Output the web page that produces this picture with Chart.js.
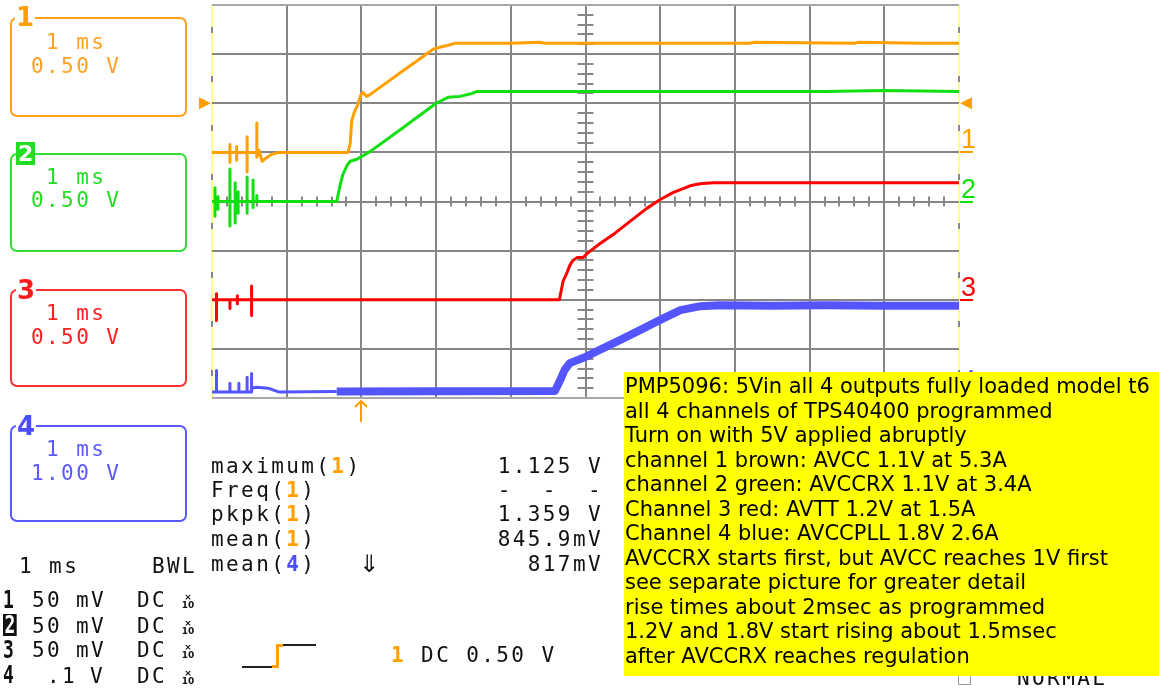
<!DOCTYPE html>
<html>
<head>
<meta charset="utf-8">
<title>PMP5096 turn-on, 4 channels</title>
<script src="https://cdn.jsdelivr.net/npm/chart.js@4.4.1/dist/chart.umd.min.js"></script>
<style>
  html, body { margin: 0; padding: 0; background: #fff; }
  #page { position: relative; width: 1159px; height: 689px; overflow: hidden; }
  #scope { position: absolute; left: 0; top: 0; }
  .mono { position: absolute; font-family: "DejaVu Sans Mono", monospace; font-size: 21px; letter-spacing: 2.4px; line-height: 21px; white-space: pre; color: #111; }
  .chnum { position: absolute; font: bold 25px "DejaVu Sans Mono", monospace; line-height: 25px; color: #111; transform: scaleX(0.72); transform-origin: 0 0; }
  .chbox { position: absolute; left: 10px; width: 177px; box-sizing: border-box; border: 2px solid; border-radius: 7px; }
  .chlbl { position: absolute; left: 6px; font: bold 26px "DejaVu Sans", sans-serif; line-height: 26px; background: #fff; padding: 0 1px; }
  .x10 { position: absolute; font: bold 9px "DejaVu Sans", sans-serif; line-height: 8px; text-align: center; width: 14px; color: #111; }
  .rule { position: absolute; }
  #note { position: absolute; left: 624px; top: 372px; width: 535px; height: 304px; background: #ffff00; box-sizing: border-box; padding: 2px 0 0 1px; font-family: "DejaVu Sans", sans-serif; font-size: 21px; line-height: 24.5px; color: #000; white-space: pre; z-index: 5; }
</style>
</head>
<body>
<div id="page">
  <canvas id="scope" width="1159" height="689"></canvas>

  <!-- channel boxes -->
  <div class="chbox" style="top:17px;height:100px;border-color:#ffa020"></div>
  <div class="chlbl" style="left:15px;top:4px;color:#ffa000">1</div>
  <div class="mono" style="left:31px;top:32px;color:#ffa020"> 1 ms</div>
  <div class="mono" style="left:31px;top:56px;color:#ffa020">0.50 V</div>

  <div class="chbox" style="top:153px;height:99px;border-color:#33dd33"></div>
  <div class="chlbl" style="left:16px;top:142px;color:#fff;background:#22dd22;font-size:22px;line-height:23px;padding:0 2px">2</div>
  <div class="mono" style="left:31px;top:167px;color:#22dd22"> 1 ms</div>
  <div class="mono" style="left:31px;top:190px;color:#22dd22">0.50 V</div>

  <div class="chbox" style="top:289px;height:98px;border-color:#ff3030"></div>
  <div class="chlbl" style="left:16px;top:277px;color:#ff1a1a">3</div>
  <div class="mono" style="left:31px;top:303px;color:#ff2020"> 1 ms</div>
  <div class="mono" style="left:31px;top:327px;color:#ff2020">0.50 V</div>

  <div class="chbox" style="top:425px;height:97px;border-color:#5a5aff"></div>
  <div class="chlbl" style="left:16px;top:413px;color:#4c4cff">4</div>
  <div class="mono" style="left:31px;top:439px;color:#5a5aff"> 1 ms</div>
  <div class="mono" style="left:31px;top:463px;color:#5a5aff">1.00 V</div>

  <!-- measurements -->
  <div class="mono" style="left:211px;top:456px">maximum(<b style="color:#ffa000">1</b>)</div>
  <div class="mono" style="left:211px;top:480px">Freq(<b style="color:#ffa000">1</b>)</div>
  <div class="mono" style="left:211px;top:504px">pkpk(<b style="color:#ffa000">1</b>)</div>
  <div class="mono" style="left:211px;top:529px">mean(<b style="color:#ffa000">1</b>)</div>
  <div class="mono" style="left:211px;top:554px">mean(<b style="color:#4c4cff">4</b>)</div>
  <div class="mono" style="left:359px;top:552px;font-family:'DejaVu Sans',sans-serif;font-size:24px;line-height:24px;letter-spacing:0">&#8659;</div>
  <div class="mono" style="right:556px;top:456px;text-align:right">1.125 V</div>
  <div class="mono" style="right:556px;top:480px;text-align:right">-  -  -</div>
  <div class="mono" style="right:556px;top:504px;text-align:right">1.359 V</div>
  <div class="mono" style="right:556px;top:529px;text-align:right">845.9mV</div>
  <div class="mono" style="right:556px;top:554px;text-align:right">817mV</div>

  <!-- timebase and channel settings -->
  <div class="mono" style="left:19px;top:556px">1 ms</div>
  <div class="mono" style="left:152px;top:556px">BWL</div>

  <div class="chnum" style="left:3px;top:587px">1</div>
  <div class="mono" style="left:32px;top:590px">50</div>
  <div class="mono" style="left:76px;top:590px">mV</div>
  <div class="mono" style="left:137px;top:590px">DC</div>
  <div class="x10" style="left:181px;top:593px">&#215;<br>10</div>

  <div class="chnum" style="left:3px;top:612px;color:#fff;background:#111;padding:0 2px;line-height:22px;margin-top:2px">2</div>
  <div class="mono" style="left:32px;top:616px">50</div>
  <div class="mono" style="left:76px;top:616px">mV</div>
  <div class="mono" style="left:137px;top:616px">DC</div>
  <div class="x10" style="left:181px;top:619px">&#215;<br>10</div>

  <div class="chnum" style="left:3px;top:637px">3</div>
  <div class="mono" style="left:32px;top:640px">50</div>
  <div class="mono" style="left:76px;top:640px">mV</div>
  <div class="mono" style="left:137px;top:640px">DC</div>
  <div class="x10" style="left:181px;top:643px">&#215;<br>10</div>

  <div class="chnum" style="left:3px;top:662px">4</div>
  <div class="mono" style="left:32px;top:666px"> .1</div>
  <div class="mono" style="left:90px;top:666px">V</div>
  <div class="mono" style="left:137px;top:666px">DC</div>
  <div class="x10" style="left:181px;top:669px">&#215;<br>10</div>

  <!-- trigger setting -->
  <div class="rule" style="left:242px;top:666px;width:31px;height:2px;background:#222"></div>
  <div class="rule" style="left:272px;top:665px;width:6px;height:3px;background:#ffa000"></div>
  <div class="rule" style="left:276px;top:645px;width:3px;height:23px;background:#ffa000"></div>
  <div class="rule" style="left:276px;top:644px;width:7px;height:3px;background:#ffa000"></div>
  <div class="rule" style="left:283px;top:644px;width:33px;height:2px;background:#222"></div>
  <div class="mono" style="left:391px;top:645px"><b style="color:#ffa000">1</b> DC 0.50 V</div>

  <div class="rule" style="left:958px;top:672px;width:11px;height:11px;border:1px solid #999"></div>
  <div class="mono" style="left:1017px;top:668px">NORMAL</div>

  <div id="note">PMP5096: 5Vin all 4 outputs fully loaded model t6
all 4 channels of TPS40400 programmed
Turn on with 5V applied abruptly
channel 1 brown: AVCC 1.1V at 5.3A
channel 2 green: AVCCRX 1.1V at 3.4A
Channel 3 red: AVTT 1.2V at 1.5A
Channel 4 blue: AVCCPLL 1.8V 2.6A
AVCCRX starts first, but AVCC reaches 1V first
see separate picture for greater detail
rise times about 2msec as programmed
1.2V and 1.8V start rising about 1.5msec
after AVCCRX reaches regulation</div>
</div>

<script>
    "use strict";

    /*---------------------------------------------------
      Captured traces: time in ms (trigger at 0), volts
    ---------------------------------------------------*/

    // channel 1 (AVCC), 0.50 V/div
    var ch1Time  = [-2.0, -1.76, -1.76, -1.76, -1.76, -1.67, -1.67, -1.67, -1.67, -1.53, -1.53, -1.53, -1.53,
                    -1.40, -1.40, -1.40, -1.37, -1.33, -1.28, -1.20, -1.10,
                    -0.18, -0.15, -0.13, -0.09, -0.05, -0.01, 0.02, 0.07, 0.12, 0.32, 0.52, 0.78, 0.96, 1.05, 1.16, 1.25,
                    2.0, 2.4, 2.45, 3.6, 5.2, 5.25, 6.6, 6.65, 7.5, 8.0];
    var ch1Volts = [0, 0, 0.08, -0.10, 0, 0, 0.06, -0.08, 0, 0, 0.16, -0.20, 0,
                    0, 0.30, -0.05, 0.02, -0.09, -0.06, -0.02, 0,
                    0, 0.09, 0.32, 0.42, 0.48, 0.58, 0.61, 0.57, 0.59, 0.70, 0.81, 0.95, 1.05, 1.07, 1.09, 1.11,
                    1.11, 1.12, 1.11, 1.11, 1.11, 1.12, 1.11, 1.12, 1.11, 1.11];

    // channel 2 (AVCCRX), 0.50 V/div
    var ch2Time  = [-2.0, -1.96, -1.96, -1.96, -1.96, -1.92, -1.92, -1.92, -1.92, -1.76, -1.76, -1.76, -1.76,
                    -1.69, -1.69, -1.69, -1.69, -1.65, -1.65, -1.65, -1.65, -1.53, -1.53, -1.53, -1.53,
                    -1.45, -1.45, -1.45, -1.45, -1.40, -1.40, -1.40,
                    -0.33, -0.29, -0.25, -0.19, -0.15, -0.06, 0.12, 0.52, 1.0, 1.16, 1.32, 1.48, 1.55,
                    4.0, 6.2, 7.0, 8.0];
    var ch2Volts = [0, 0, 0.14, -0.15, 0, 0, 0.05, -0.08, 0, 0, 0.33, -0.25, 0,
                    0, 0.19, -0.22, 0, 0, 0.10, -0.12, 0, 0, 0.25, -0.12, 0,
                    0, 0.22, -0.06, 0, 0, 0.06, 0,
                    0, 0.15, 0.27, 0.37, 0.41, 0.43, 0.51, 0.73, 1.0, 1.06, 1.07, 1.10, 1.12,
                    1.12, 1.12, 1.13, 1.12];

    // channel 3 (AVTT), 0.50 V/div
    var ch3Time  = [-2.0, -1.94, -1.94, -1.94, -1.94, -1.76, -1.76, -1.76, -1.66, -1.66, -1.66, -1.66,
                    -1.47, -1.47, -1.47, -1.47,
                    2.65, 2.70, 2.75, 2.79, 2.83, 2.89, 2.97, 3.02, 3.19, 3.40, 3.60, 3.82, 4.0, 4.17, 4.40, 4.53, 4.71, 8.0];
    var ch3Volts = [0, 0, 0.06, -0.21, 0, 0, -0.09, 0, 0, 0.04, -0.04, 0,
                    0, 0.14, -0.16, 0,
                    0, 0.19, 0.27, 0.35, 0.40, 0.43, 0.43, 0.47, 0.57, 0.68, 0.80, 0.93, 1.02, 1.09, 1.16, 1.18, 1.19, 1.19];

    // channel 4 (AVCCPLL), 1.00 V/div
    var ch4Time  = [-2.0, -1.94, -1.94, -1.94, -1.76, -1.76, -1.76, -1.64, -1.64, -1.64, -1.53, -1.53, -1.53,
                    -1.47, -1.47, -1.47, -1.40, -1.25, -1.10, -0.33,
                    2.59, 2.66, 2.72, 2.79, 2.99, 3.19, 3.46, 3.73, 4.0, 4.27, 4.54, 4.80,
                    5.5, 6.2, 7.0, 8.0];
    var ch4Volts = [0.02, 0.02, 0.46, 0.02, 0.02, 0.20, 0.02, 0.02, 0.20, 0.02, 0.02, 0.32, 0.02,
                    0.02, 0.40, 0.10, 0.12, 0.10, 0.02, 0.03,
                    0.04, 0.26, 0.47, 0.61, 0.73, 0.88, 1.08, 1.28, 1.49, 1.69, 1.77, 1.79,
                    1.78, 1.79, 1.78, 1.78];

    var chLabels = ['1', '2', '3', '4'];
    var chColors = ['#ffa000', '#10e010', '#ff0000', '#5555ff'];
    var triggerLevel = 0.5;   // volts on channel 1

    function points(times, volts) {
        return times.map(function (t, i) {
            return { x: t, y: volts[i] };
        });
    }

    /*---------------------------------------------------
      Graticule details, ground and trigger markers
    ---------------------------------------------------*/
    var scopeMarks = {
        id: 'scopeMarks',
        beforeDatasetsDraw: function (chart) {
            var c = chart.ctx, a = chart.chartArea;
            var sx = chart.scales.x, sy = chart.scales.y;
            var cx = sx.getPixelForValue(3), cy = sy.getPixelForValue(0);
            var i, p;
            c.save();
            c.strokeStyle = '#888';
            c.lineWidth = 2;
            c.beginPath();
            for (i = 1; i < 50; i++) {
                if (i % 5 === 0) continue;
                p = Math.round(sx.getPixelForValue(-2 + i * 0.2));
                c.moveTo(p, cy - 5); c.lineTo(p, cy + 5);
            }
            for (i = 1; i < 40; i++) {
                if (i % 5 === 0) continue;
                p = Math.round(sy.getPixelForValue(-4 + i * 0.2));
                c.moveTo(cx - 8, p); c.lineTo(cx + 8, p);
            }
            // dashes on the yellow side edges
            for (i = 0; i < 8; i++) {
                p = Math.round(sy.getPixelForValue(-3.5 + i));
                c.moveTo(a.left, p - 3); c.lineTo(a.left, p + 3);
                c.moveTo(a.right, p - 3); c.lineTo(a.right, p + 3);
            }
            c.stroke();
            c.restore();
        },
        afterDraw: function (chart) {
            var c = chart.ctx, a = chart.chartArea;
            var y0, i, s, ty, tx;
            c.save();
            c.font = '27px "Liberation Sans", sans-serif';
            c.textBaseline = 'alphabetic';
            for (i = 0; i < 4; i++) {
                s = chart.scales['c' + (i + 1)];
                y0 = Math.round(s.getPixelForValue(0));
                c.fillStyle = chColors[i];
                c.fillRect(a.right + 1, y0 - 1, 13, 2);
                c.fillText(chLabels[i], a.right + 2, y0 - 4);
            }
            // trigger level arrows
            ty = chart.scales.c1.getPixelForValue(triggerLevel);
            c.fillStyle = '#ffa000';
            c.beginPath();
            c.moveTo(a.left - 13, ty - 6); c.lineTo(a.left - 1, ty); c.lineTo(a.left - 13, ty + 6);
            c.closePath(); c.fill();
            c.beginPath();
            c.moveTo(a.right + 13, ty - 6); c.lineTo(a.right + 1, ty); c.lineTo(a.right + 13, ty + 6);
            c.closePath(); c.fill();
            // trigger position arrow
            tx = Math.round(chart.scales.x.getPixelForValue(0));
            c.strokeStyle = '#ffa000';
            c.lineWidth = 2;
            c.beginPath();
            c.moveTo(tx, a.bottom + 3); c.lineTo(tx, a.bottom + 24);
            c.moveTo(tx - 6, a.bottom + 9); c.lineTo(tx, a.bottom + 3); c.lineTo(tx + 6, a.bottom + 9);
            c.stroke();
            c.restore();
        }
    };

    function hiddenAxis(min, max) {
        return { axis: 'y', display: false, min: min, max: max };
    }

    var scopeChart = new Chart(document.getElementById('scope'), {
        type: 'line',
        data: {
            datasets: [
                { label: 'AVCC', data: points(ch1Time, ch1Volts), yAxisID: 'c1', borderColor: chColors[0], borderWidth: 3 },
                { label: 'AVCCRX', data: points(ch2Time, ch2Volts), yAxisID: 'c2', borderColor: chColors[1], borderWidth: 3 },
                { label: 'AVTT', data: points(ch3Time, ch3Volts), yAxisID: 'c3', borderColor: chColors[2], borderWidth: 3 },
                {
                    label: 'AVCCPLL', data: points(ch4Time, ch4Volts), yAxisID: 'c4', borderColor: chColors[3], borderWidth: 8,
                    segment: {
                        borderWidth: function (ctx) { return ctx.p1.parsed.x < -0.3 ? 3 : 8; }
                    }
                }
            ]
        },
        options: {
            responsive: false,
            animation: false,
            devicePixelRatio: 1,
            layout: { padding: { left: 212, top: 5, right: 200, bottom: 291 } },
            plugins: { legend: { display: false }, tooltip: { enabled: false } },
            elements: {
                point: { radius: 0 },
                line: { tension: 0, borderJoinStyle: 'round', fill: false }
            },
            scales: {
                x: {
                    type: 'linear', min: -2, max: 8,
                    ticks: { display: false, stepSize: 1 },
                    border: { display: false },
                    grid: {
                        drawTicks: false, lineWidth: 2,
                        color: function (ctx) {
                            return (ctx.tick.value === -2 || ctx.tick.value === 8) ? '#ffff8c' : '#868686';
                        }
                    }
                },
                y: {
                    type: 'linear', min: -4, max: 4,
                    ticks: { display: false, stepSize: 1 },
                    border: { display: false },
                    grid: {
                        drawTicks: false, lineWidth: 2,
                        color: function (ctx) {
                            return (ctx.tick.value === -4 || ctx.tick.value === 4) ? '#a8a8a8' : '#868686';
                        }
                    }
                },
                c1: hiddenAxis(-2.5, 1.5),
                c2: hiddenAxis(-2, 2),
                c3: hiddenAxis(-1, 3),
                c4: hiddenAxis(-0.1, 7.9)
            }
        },
        plugins: [scopeMarks]
    });
</script>
</body>
</html>
